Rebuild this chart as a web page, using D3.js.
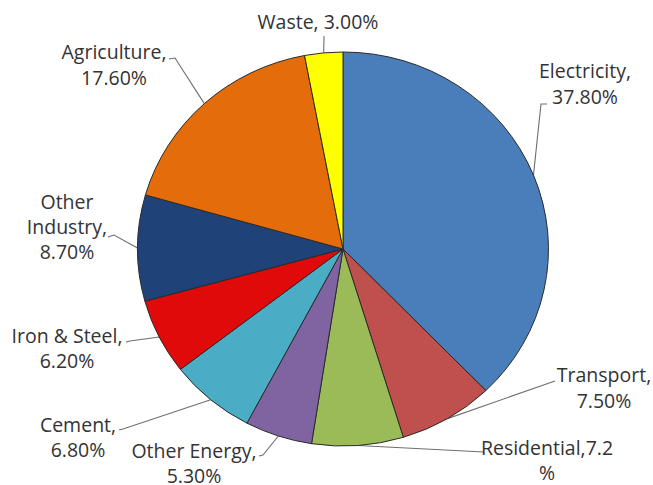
<!DOCTYPE html>
<html>
<head>
<meta charset="utf-8">
<script src="https://cdn.jsdelivr.net/npm/d3@7"></script>
<style>
  html, body { margin: 0; padding: 0; background: #ffffff; }
  svg { display: block; }
  .lbl { font-family: "Open Sans", sans-serif; font-size: 19.5px; fill: #333333; }
</style>
</head>
<body>
<svg id="chart" width="653" height="485"></svg>
<script>
// Emission shares by sector, clockwise from twelve o'clock
const categories = ["Electricity", "Transport", "Residential", "Other Energy", "Cement",
                    "Iron & Steel", "Other Industry", "Agriculture", "Waste"];
const shares = [37.8, 7.5, 7.2, 5.3, 6.8, 6.2, 8.7, 17.6, 3.0];

// Label text as it wraps on the page
const labelLines = [
  ["Electricity,", "37.80%"],
  ["Transport,", "7.50%"],
  ["Residential,7.2", "%"],
  ["Other Energy,", "5.30%"],
  ["Cement,", "6.80%"],
  ["Iron & Steel,", "6.20%"],
  ["Other", "Industry,", "8.70%"],
  ["Agriculture,", "17.60%"],
  ["Waste, 3.00%"]
];

const colors = ["#4A7EBB", "#C0504D", "#9BBB59", "#8064A2", "#4BACC6",
                "#E10A0A", "#1F4279", "#E46C0A", "#FFFF00"];

// Label placement: centre x, first baseline, line step, leader start points
const labelLayout = [
  { x: 585, y: 78,  step: 26, leader: [[547, 104], [541, 104]] },
  { x: 604, y: 382, step: 26, leader: [[555, 381]] },
  { x: 547, y: 455, step: 25, leader: [[484, 452]] },
  { x: 194, y: 458, step: 25, leader: [[259, 456], [263, 455]] },
  { x: 78,  y: 432, step: 25, leader: [[119, 430], [123, 429]] },
  { x: 67,  y: 343, step: 25, leader: [[126, 342], [130, 341]] },
  { x: 67,  y: 209, step: 25, leader: [[108, 237], [114, 235]] },
  { x: 114, y: 59,  step: 26, leader: [[169, 59], [175, 58]] },
  { x: 318, y: 29,  step: 25, leader: [[324, 36]] }
];

const W = 653, H = 485;
const cx = 343, cy = 249, r = 197, sx = 1.043;

const svg = d3.select("#chart");

const pie = d3.pie().sort(null).value(d => d).startAngle(0).endAngle(2 * Math.PI);
const arcs = pie(shares);
const arc = d3.arc().innerRadius(0).outerRadius(r);

// Point on the rim at the middle of a slice
function rimPoint(a) {
  const m = (a.startAngle + a.endAngle) / 2;
  return [cx + sx * r * Math.sin(m), cy - r * Math.cos(m)];
}

// Leader lines sit beneath the pie so they stop at its rim
const line = d3.line();
svg.append("g")
  .selectAll("path")
  .data(arcs)
  .join("path")
  .attr("d", (a, i) => line(labelLayout[i].leader.concat([rimPoint(a)])))
  .attr("fill", "none")
  .attr("stroke", "#6e6e6e")
  .attr("stroke-width", 1.1);

const g = svg.append("g")
  .attr("transform", `translate(${cx},${cy}) scale(${sx},1)`);

g.selectAll("path")
  .data(arcs)
  .join("path")
  .attr("d", arc)
  .attr("fill", (a, i) => colors[i])
  .attr("stroke", "#2a2a2a")
  .attr("stroke-width", 1)
  .attr("vector-effect", "non-scaling-stroke");

// Data labels
const labels = svg.append("g")
  .selectAll("text")
  .data(arcs)
  .join("text")
  .attr("class", "lbl")
  .attr("text-anchor", "middle");

labels.each(function (a, i) {
  const L = labelLayout[i];
  d3.select(this)
    .selectAll("tspan")
    .data(labelLines[i])
    .join("tspan")
    .attr("x", L.x)
    .attr("y", (t, k) => L.y + k * L.step)
    .text(t => t);
});
</script>
</body>
</html>
